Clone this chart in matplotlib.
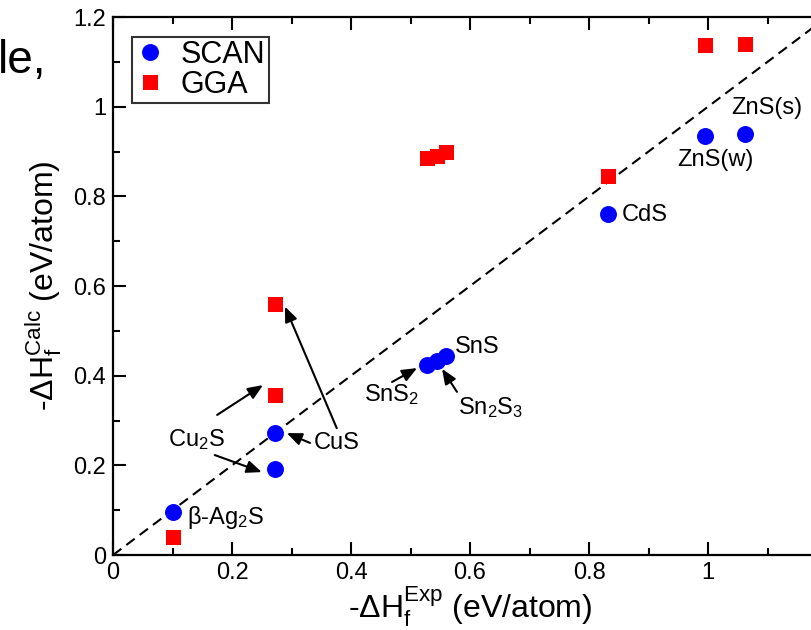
import numpy as np
import matplotlib
matplotlib.use("Agg")
import matplotlib.pyplot as plt
from matplotlib.ticker import MultipleLocator, FuncFormatter

plt.rcParams['font.family'] = ['Liberation Sans', 'DejaVu Sans']
plt.rcParams['mathtext.fontset'] = 'custom'
plt.rcParams['mathtext.rm'] = 'Liberation Sans'
plt.rcParams['mathtext.it'] = 'Liberation Sans'
plt.rcParams['mathtext.bf'] = 'Liberation Sans:bold'

# formation enthalpies (eV/atom): experiment vs. SCAN and GGA
compounds = ['Ag2S', 'Cu2S', 'CuS', 'SnS2', 'Sn2S3', 'SnS', 'CdS', 'ZnS(w)', 'ZnS(s)']
dh_exp = [0.100, 0.272, 0.272, 0.527, 0.545, 0.560, 0.832, 0.995, 1.062]
dh_scan = [0.096, 0.192, 0.273, 0.424, 0.432, 0.445, 0.761, 0.935, 0.938]
dh_gga = [0.040, 0.357, 0.560, 0.886, 0.891, 0.900, 0.846, 1.138, 1.140]

fig = plt.figure(figsize=(8.12, 6.3), dpi=100)
ax = fig.add_axes([0.1392, 0.119, 0.8793, 0.854])

ax.plot([0, 1.2], [0, 1.2], color='k', lw=1.5, ls=(0, (5, 3)), zorder=1)
ax.plot(dh_exp, dh_scan, 'o', color='#0000ff', ms=12.2, mew=0, label='SCAN', zorder=3)
ax.plot(dh_exp, dh_gga, 's', color='#ff0000', ms=10.8, mew=0, label='GGA', zorder=3)

ax.set_xlim(0, 1.2)
ax.set_ylim(0, 1.2)
ax.xaxis.set_major_locator(MultipleLocator(0.2))
ax.xaxis.set_minor_locator(MultipleLocator(0.1))
ax.yaxis.set_major_locator(MultipleLocator(0.2))
ax.yaxis.set_minor_locator(MultipleLocator(0.1))
ax.xaxis.set_major_formatter(FuncFormatter(lambda v, p: '%g' % round(v, 2) if v < 1.1 else ''))
ax.yaxis.set_major_formatter(FuncFormatter(lambda v, p: '%g' % round(v, 2)))
ax.tick_params(which='both', direction='in', top=True, right=True, width=1.5)
ax.tick_params(which='major', length=9.5, labelsize=17, pad=5)
ax.tick_params(which='minor', length=5)
for s in ax.spines.values():
    s.set_linewidth(1.6)

ax.set_xlabel(r'-$\Delta$H$_{\rm f}^{\rm Exp}$ (eV/atom)', fontsize=23)
ax.set_ylabel(r'-$\Delta$H$_{\rm f}^{\rm Calc}$ (eV/atom)', fontsize=23)
ax.xaxis.set_label_coords(0.5, -0.055)
ax.yaxis.set_label_coords(-0.068, 0.5)

leg = ax.legend(loc='upper left', bbox_to_anchor=(0.0266, 0.963), borderaxespad=0,
                fontsize=22, frameon=True, fancybox=False, handlelength=1.0,
                handletextpad=0.5, labelspacing=0.0, borderpad=0.1)
leg.get_frame().set_edgecolor('k')
leg.get_frame().set_linewidth(1.5)

# labels and arrows
fs = 17
ap = dict(arrowstyle='-|>,head_length=0.6,head_width=0.25', color='k', lw=1.5,
          mutation_scale=15, shrinkA=0, shrinkB=0)
ax.text(0.124, 0.083, r'$\beta$-Ag$_2$S', fontsize=fs, va='center', ha='left')
ax.text(0.141, 0.257, r'Cu$_2$S', fontsize=fs, va='center', ha='center')
ax.annotate('', xy=(0.252, 0.379), xytext=(0.175, 0.3125), arrowprops=ap)
ax.annotate('', xy=(0.250, 0.185), xytext=(0.171, 0.223), arrowprops=ap)
ax.text(0.376, 0.250, 'CuS', fontsize=fs, va='center', ha='center')
ax.annotate('', xy=(0.292, 0.272), xytext=(0.331, 0.250), arrowprops=ap)
ax.annotate('', xy=(0.289, 0.554), xytext=(0.376, 0.283), arrowprops=ap)
ax.text(0.469, 0.357, r'SnS$_2$', fontsize=fs, va='center', ha='center')
ax.annotate('', xy=(0.511, 0.417), xytext=(0.469, 0.386), arrowprops=ap)
ax.text(0.634, 0.328, r'Sn$_2$S$_3$', fontsize=fs, va='center', ha='center')
ax.annotate('', xy=(0.553, 0.415), xytext=(0.578, 0.364), arrowprops=ap)
ax.text(0.575, 0.464, 'SnS', fontsize=fs, va='center', ha='left')
ax.text(0.855, 0.759, 'CdS', fontsize=fs, va='center', ha='left')
ax.text(1.012, 0.882, 'ZnS(w)', fontsize=fs, va='center', ha='center')
ax.text(1.099, 0.998, 'ZnS(s)', fontsize=fs, va='center', ha='center')

fig.text(-0.003, 1 - 73 / 630, 'le,', fontsize=33, va='baseline', ha='left')

fig.savefig('out.png', dpi=100)
